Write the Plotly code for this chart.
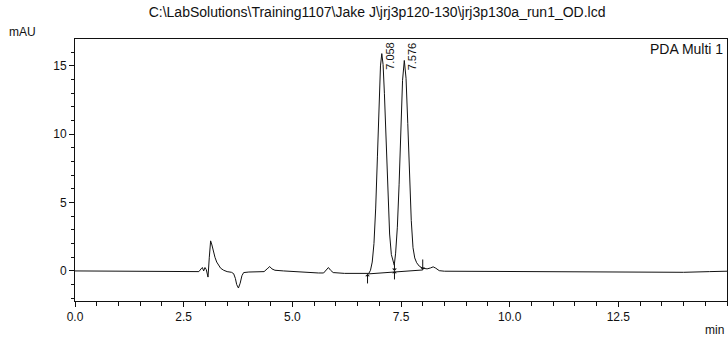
import plotly.graph_objects as go

# Chromatogram trace (retention time in min, detector signal in mAU)
time_min = [
    0.0, 0.5, 1.0, 1.5, 2.0, 2.5, 2.85, 2.90, 2.93, 2.96, 2.99, 3.02, 3.06, 3.09,
    3.12, 3.15, 3.18, 3.22, 3.26, 3.30, 3.35, 3.42, 3.50, 3.60, 3.65, 3.69, 3.72,
    3.76, 3.80, 3.84, 3.88, 4.0, 4.2, 4.35, 4.42, 4.48, 4.53, 4.60, 4.8, 5.0, 5.3,
    5.6, 5.72, 5.78, 5.83, 5.88, 5.94, 6.2, 6.5, 6.7, 6.76,
    6.798, 6.838, 6.878, 6.918, 6.958, 6.998, 7.028, 7.058, 7.088, 7.118, 7.158,
    7.198, 7.238, 7.278, 7.318, 7.345, 7.376, 7.416, 7.456, 7.496, 7.536, 7.576,
    7.616, 7.656, 7.696, 7.736, 7.776, 7.816, 7.86, 7.92, 8.0, 8.1, 8.18, 8.24,
    8.30, 8.38, 8.5, 9.0, 10.0, 11.0, 12.0, 13.0, 14.0, 14.6, 15.0,
]
signal_mau = [
    0.0, 0.0, -0.02, -0.03, -0.05, -0.05, -0.05, 0.15, 0.25, 0.0, 0.25, 0.1, -0.45, 1.0,
    2.2, 1.9, 1.4, 1.0, 0.65, 0.4, 0.2, 0.05, -0.05, -0.1, -0.2, -0.55, -1.0,
    -1.25, -0.9, -0.35, -0.12, -0.08, -0.06, -0.05, 0.15, 0.32, 0.15, 0.05, 0.0, -0.05, -0.1,
    -0.15, -0.15, 0.05, 0.25, 0.05, -0.12, -0.18, -0.2, -0.2, -0.18,
    0.05, 0.65, 2.0, 4.6, 8.4, 12.6, 15.0, 15.9, 15.1, 13.0, 9.1,
    5.4, 2.7, 1.2, 0.6, 0.42, 1.3, 3.2, 6.3, 10.4, 13.95, 15.4,
    14.1, 10.8, 6.9, 3.7, 1.7, 0.95, 0.6, 0.35, 0.2, 0.15, 0.22, 0.3,
    0.2, 0.02, -0.02, -0.03, -0.05, -0.07, -0.1, -0.12, -0.1, -0.05, -0.02,
]

# Integrated peaks
peak_times = [7.058, 7.576]
peak_labels = ["7.058", "7.576"]

# Integration baseline: start, valley drop, end
event_times = [6.73, 7.35, 8.0]
event_levels = [-0.22, 0.0, 0.07]

title_text = "C:\\LabSolutions\\Training1107\\Jake J\\jrj3p120-130\\jrj3p130a_run1_OD.lcd"
x_ticks = [0.0, 2.5, 5.0, 7.5, 10.0, 12.5]
y_ticks = [0, 5, 10, 15]

font_family = "Liberation Sans, Arial, sans-serif"
ink = "#111111"

fig = go.Figure()

fig.add_trace(go.Scatter(
    x=time_min, y=signal_mau, mode="lines",
    line=dict(color=ink, width=1), hoverinfo="skip",
))

# Drawn baseline under the two peaks
fig.add_trace(go.Scatter(
    x=[event_times[0], event_times[-1]], y=[event_levels[0], event_levels[-1]],
    mode="lines", line=dict(color=ink, width=1), hoverinfo="skip",
))

annotations = []

# Peak retention-time labels, rotated to read upwards
for t, lab in zip(peak_times, peak_labels):
    annotations.append(dict(
        x=t, y=1, xref="x", yref="paper", text=lab, showarrow=False,
        textangle=-90, xanchor="left", yanchor="top", xshift=0, yshift=-1,
        font=dict(family=font_family, size=11, color=ink),
    ))

# Integration event arrows: up at start, both ways at valley, down at end
arrow_style = dict(showarrow=True, arrowhead=1, arrowsize=0.8, arrowwidth=1,
                   arrowcolor=ink, text="", xref="x", yref="y")
annotations.append(dict(x=event_times[0], y=event_levels[0], ax=0, ay=11, **arrow_style))
annotations.append(dict(x=event_times[1], y=event_levels[1], ax=0, ay=10, **arrow_style))
annotations.append(dict(x=event_times[1], y=event_levels[1], ax=0, ay=-8, **arrow_style))
annotations.append(dict(x=event_times[2], y=event_levels[2], ax=0, ay=-12, **arrow_style))

annotations.append(dict(
    x=1, y=1, xref="paper", yref="paper", text="PDA Multi 1", showarrow=False,
    xanchor="right", yanchor="top", xshift=-2, yshift=0,
    font=dict(family=font_family, size=14, color=ink),
))
annotations.append(dict(
    x=0, y=1, xref="paper", yref="paper", text="mAU", showarrow=False,
    xanchor="center", yanchor="bottom", xshift=-53, yshift=-2,
    font=dict(family=font_family, size=12, color=ink),
))
annotations.append(dict(
    x=1, y=0, xref="paper", yref="paper", text="min", showarrow=False,
    xanchor="right", yanchor="top", xshift=-1, yshift=-20,
    font=dict(family=font_family, size=12, color=ink),
))

fig.update_layout(
    width=728, height=337,
    margin=dict(l=75, r=1, t=39, b=36),
    paper_bgcolor="white", plot_bgcolor="white",
    showlegend=False,
    title=dict(text=title_text, x=0.518, xanchor="center", y=0.978, yanchor="top",
               font=dict(family=font_family, size=14, color=ink)),
    font=dict(family=font_family, size=12, color=ink),
    annotations=annotations,
)

fig.update_xaxes(
    range=[0, 15], tickvals=x_ticks, ticktext=[f"{v:.1f}" for v in x_ticks],
    showgrid=False, zeroline=False, showline=True, linecolor=ink, linewidth=1,
    mirror=True, ticks="outside", ticklen=5, tickcolor=ink,
    minor=dict(dtick=0.5, ticks="outside", ticklen=4, tickcolor=ink, showgrid=False),
    tickfont=dict(family=font_family, size=12, color=ink),
)
fig.update_yaxes(
    range=[-2.2, 16.97], tickvals=y_ticks,
    showgrid=False, zeroline=False, showline=True, linecolor=ink, linewidth=1,
    mirror=True, ticks="outside", ticklen=5, tickcolor=ink,
    minor=dict(dtick=1, ticks="outside", ticklen=3, tickcolor=ink, showgrid=False),
    tickfont=dict(family=font_family, size=12, color=ink),
)

fig.write_html("out.html")
